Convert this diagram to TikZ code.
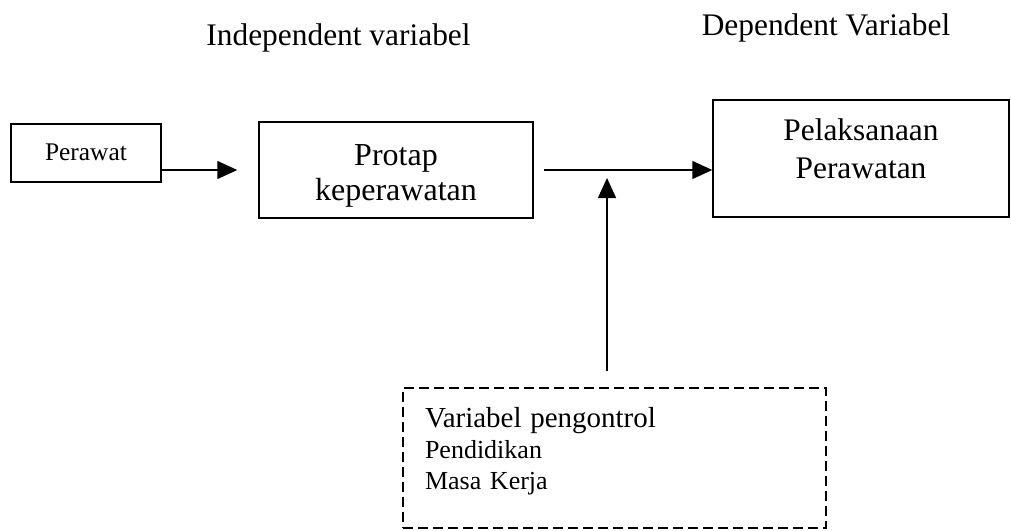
\documentclass[tikz,border=0pt]{standalone}
\usepackage{fontspec}
\setmainfont{Liberation Serif}
\usetikzlibrary{arrows.meta}
\tikzset{
  box/.style={draw,line width=0.75pt,inner xsep=0pt,inner ysep=0pt,align=center},
  ctrlbox/.style={draw,line width=0.75pt,dash pattern=on 5pt off 2.5pt,inner xsep=11pt,inner ysep=0pt,align=left},
  arr/.style={line width=0.75pt,-{Triangle[length=10pt,width=9pt]}},
  head/.style={anchor=base,font=\fontsize{15.7}{18}\selectfont}
}
\begin{document}
\begin{tikzpicture}[x=0.5pt,y=-0.5pt]
    \useasboundingbox (0,0) rectangle (1011,530);
    % headings
    \node[head] (indep) at (338.5,45) {Independent variabel};
    \node[head] (dep) at (826,35) {Dependent Variabel};
    % variables
    \node[box,minimum width=75pt,text height=18pt,text depth=11pt,font=\fontsize{12.7}{15}\selectfont] (perawat) at (86,153) {Perawat};
    \node[box,minimum width=137pt,text height=39pt,text depth=9pt,font=\fontsize{16}{17.5}\selectfont] (protap) at (396,170) {Protap\\keperawatan};
    \node[box,minimum width=148pt,text height=39pt,text depth=19.5pt,font=\fontsize{15.7}{18.65}\selectfont] (pelaksanaan) at (861,158.5) {Pelaksanaan\\Perawatan};
    % control variables, dashed
    \node[ctrlbox,text width=189.5pt,text height=19.5pt,text depth=50.5pt,font=\fontsize{13}{15.5}\selectfont] (ctrl) at (614.5,458)
      {{\fontsize{14.5}{15.5}\selectfont Variabel pengontrol}\\Pendidikan\\Masa Kerja};
    % arrows
    \draw[arr,shorten >=10.5pt] (perawat.east |- protap.west) -- (protap.west);
    \draw[arr,shorten <=5pt] (protap.east) -- (protap.east -| pelaksanaan.west);
    \draw[arr,shorten <=8pt,shorten >=4pt] ([xshift=-3.75pt]ctrl.north) -- ([xshift=-3.75pt]ctrl.north |- protap.east);
\end{tikzpicture}
\end{document}
